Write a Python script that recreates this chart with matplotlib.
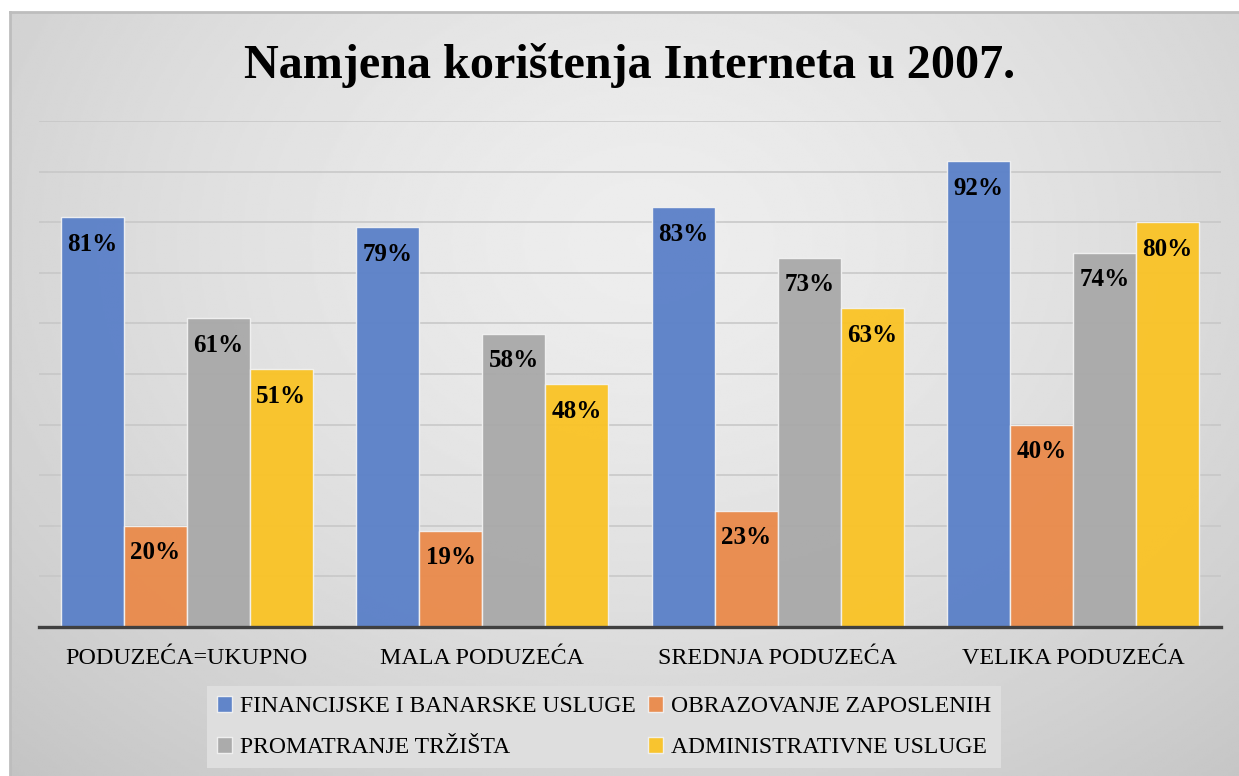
import matplotlib.pyplot as plt
import numpy as np

# data
categories = ["PODUZEĆA=UKUPNO", "MALA PODUZEĆA", "SREDNJA PODUZEĆA", "VELIKA PODUZEĆA"]
series_names = ["FINANCIJSKE I BANARSKE USLUGE", "OBRAZOVANJE ZAPOSLENIH",
                "PROMATRANJE TRŽIŠTA", "ADMINISTRATIVNE USLUGE"]
financ = [0.81, 0.79, 0.83, 0.92]
obraz = [0.20, 0.19, 0.23, 0.40]
promat = [0.61, 0.58, 0.73, 0.74]
admin = [0.51, 0.48, 0.63, 0.80]
colors = ['#5a80c8', '#ea8a4a', '#a9a9a9', '#fac325']

plt.rcParams['font.family'] = ['Liberation Serif', 'DejaVu Serif']

W, H = 1239, 776
fig = plt.figure(figsize=(W / 100, H / 100), dpi=100, facecolor='white')

# gradient background panel, gray frame only on top and left
bg = fig.add_axes([10 / W, 0, 1 - 10 / W, 1 - 12 / H], zorder=-10)
yy, xx = np.mgrid[0:1:300j, 0:1:600j]
r = np.sqrt(((xx - 0.52) / 0.75) ** 2 + ((yy - 0.3) / 0.95) ** 2)
img = np.clip(0.93 - 0.16 * r ** 1.5, 0, 1)
bg.imshow(img, cmap='gray', vmin=0, vmax=1, aspect='auto', extent=[0, 1, 1, 0])
bg.set_xticks([])
bg.set_yticks([])
for s in ['right', 'bottom']:
    bg.spines[s].set_visible(False)
for s in ['top', 'left']:
    bg.spines[s].set_color('#bdbdbd')
    bg.spines[s].set_linewidth(2)

ax = fig.add_axes([39 / W, 1 - 627 / H, (1221 - 39) / W, (627 - 121) / H])
ax.patch.set_alpha(0)

x = np.arange(len(categories))
w = 0.213
offsets = [-1.5 * w, -0.5 * w, 0.5 * w, 1.5 * w]
all_series = [financ, obraz, promat, admin]
handles = []
for vals, off, c, name in zip(all_series, offsets, colors, series_names):
    b = ax.bar(x + off, vals, w, color=c, edgecolor='#f2f2f2', linewidth=1,
               alpha=0.95, label=name, zorder=3)
    handles.append(b)
    for xi, v in zip(x + off, vals):
        ax.annotate(f"{round(v * 100)}%", (xi, v), xytext=(0, -19.5),
                    textcoords='offset points', ha='center', va='center',
                    fontsize=18, fontweight='bold', zorder=4)

ax.set_xlim(-0.5, len(categories) - 0.5)
ax.set_ylim(0, 1.0)
ax.set_yticks(np.arange(0, 1.01, 0.1))
ax.yaxis.grid(True, color='#c6c6c6', linewidth=1.1, zorder=0)
ax.tick_params(axis='y', left=False, labelleft=False)
ax.set_xticks(x)
ax.set_xticklabels(categories, fontsize=17.3)
ax.tick_params(axis='x', length=0, pad=15)
for s in ['top', 'left', 'right']:
    ax.spines[s].set_visible(False)
ax.spines['bottom'].set_color('#404040')
ax.spines['bottom'].set_linewidth(2.4)
ax.spines['bottom'].set_zorder(5)

fig.text(630 / W, 1 - 65 / H, "Namjena korištenja Interneta u 2007.", ha='center',
         va='center', fontsize=34.7, fontweight='bold')

order = [0, 2, 1, 3]
leg = fig.legend([handles[i] for i in order], [series_names[i] for i in order],
                 ncol=2, loc='center', bbox_to_anchor=(604 / W, 1 - 727 / H),
                 fontsize=17, frameon=True, fancybox=False, handlelength=0.65,
                 handleheight=0.65, handletextpad=0.35, columnspacing=0.5,
                 labelspacing=0.85, borderpad=0.4)
leg.get_frame().set_facecolor('#dedede')
leg.get_frame().set_edgecolor('none')
leg.get_frame().set_alpha(1)

fig.savefig('out.png', dpi=100, facecolor='white')
